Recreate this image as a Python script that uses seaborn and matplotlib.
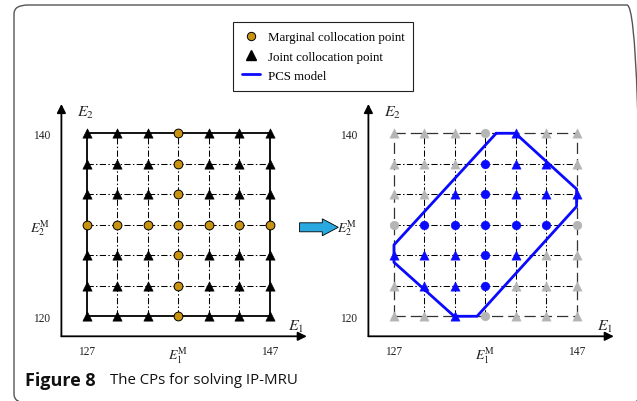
import matplotlib
matplotlib.use("Agg")
import matplotlib.pyplot as plt
from matplotlib.lines import Line2D
from matplotlib.patches import FancyBboxPatch, FancyArrow
import seaborn as sns
import pandas as pd

# ---------------- data ----------------
e1_levels = [127, 130.33, 133.67, 137, 140.33, 143.67, 147]
e2_levels = [120, 123.33, 126.67, 130, 133.33, 136.67, 140]
e1_tick_vals = [127, 137, 147]
e1_tick_labels = ["127", r"$E_1^{\mathrm{M}}$", "147"]
e2_tick_vals = [120, 130, 140]
e2_tick_labels = ["120", r"$E_2^{\mathrm{M}}$", "140"]
mid_index = 3  # marginal collocation row / column

# PCS model polygon (closed)
pcs_e1 = [138.2, 140.3, 147.0, 147.0, 136.1, 133.6, 127.0, 127.0, 138.2]
pcs_e2 = [140.0, 140.0, 133.9, 132.0, 120.0, 120.0, 125.9, 127.8, 140.0]

# grid columns (index into e1_levels) that lie inside the PCS model, per row index
inside_cols = {
    6: [4],
    5: [3, 4, 5],
    4: [2, 3, 4, 5, 6],
    3: [1, 2, 3, 4, 5],
    2: [0, 1, 2, 3, 4],
    1: [1, 2, 3],
    0: [2],
}

legend_labels = ["Marginal collocation point", "Joint collocation point", "PCS model"]
caption_bold = "Figure 8"
caption_text = "The CPs for solving IP-MRU"

# ---------------- build tables ----------------
rows = []
for j, e2 in enumerate(e2_levels):
    for i, e1 in enumerate(e1_levels):
        kind = "Marginal" if (i == mid_index or j == mid_index) else "Joint"
        rows.append({"E1": e1, "E2": e2, "kind": kind, "inside": i in inside_cols[j]})
pts = pd.DataFrame(rows)

# ---------------- style ----------------
sns.set_theme(style="white")
plt.rcParams["font.family"] = ["Liberation Serif", "DejaVu Serif"]
plt.rcParams["mathtext.fontset"] = "stix"

W, H = 637, 402
fig = plt.figure(figsize=(W / 100, H / 100), dpi=100)
fig.patch.set_facecolor("white")

def fx(px):
    return px / W

def fy(py):
    return 1 - py / H

orange = "#c99312"
grey = "#b5b5b5"
blue = "#0a0aff"

xlim = (124.2, 151.0)
ylim = (117.81, 143.2)
ax_w = (xlim[1] - xlim[0]) * 9.13
ax_h = (ylim[1] - ylim[0]) * 9.15

axL = fig.add_axes([fx(61.4), fy(337.3), ax_w / W, ax_h / H])
axR = fig.add_axes([fx(368.4), fy(337.3), ax_w / W, ax_h / H])

dashdot = (0, (6, 2.2, 1.4, 2.2))
for ax, right in ((axL, False), (axR, True)):
    ax.set_xlim(*xlim)
    ax.set_ylim(*ylim)
    for s in ax.spines.values():
        s.set_visible(False)
    ax.set_facecolor("none")
    # grid lines
    for k, v in enumerate(e2_levels):
        outer = k in (0, len(e2_levels) - 1)
        if outer:
            if right:
                ax.hlines(v, e1_levels[0], e1_levels[-1], color="#333333", lw=0.9,
                          linestyle=(0, (9, 4)), zorder=1)
            else:
                ax.hlines(v, e1_levels[0], e1_levels[-1], color="black", lw=1.3, zorder=1)
        else:
            ax.hlines(v, e1_levels[0], e1_levels[-1], color="black", lw=0.75,
                      linestyle=dashdot, zorder=1)
    for k, v in enumerate(e1_levels):
        outer = k in (0, len(e1_levels) - 1)
        if outer:
            if right:
                ax.vlines(v, e2_levels[0], e2_levels[-1], color="#333333", lw=0.9,
                          linestyle=(0, (9, 4)), zorder=1)
            else:
                ax.vlines(v, e2_levels[0], e2_levels[-1], color="black", lw=1.3, zorder=1)
        else:
            ax.vlines(v, e2_levels[0], e2_levels[-1], color="black", lw=0.75,
                      linestyle=dashdot, zorder=1)
    # axis arrows
    ax.annotate("", xy=(1.003, 0), xytext=(0, 0), xycoords="axes fraction",
                arrowprops=dict(arrowstyle="-|>", color="black", lw=1.3,
                                mutation_scale=13, shrinkA=0, shrinkB=0),
                annotation_clip=False)
    ax.annotate("", xy=(0, 1.0), xytext=(0, 0), xycoords="axes fraction",
                arrowprops=dict(arrowstyle="-|>", color="black", lw=1.3,
                                mutation_scale=13, shrinkA=0, shrinkB=0),
                annotation_clip=False)
    ax.set_xticks(e1_tick_vals)
    ax.set_xticklabels(e1_tick_labels)
    ax.set_yticks(e2_tick_vals)
    ax.set_yticklabels(e2_tick_labels)
    ax.tick_params(axis="x", length=0, pad=6, labelsize=8.3, labelcolor="#222222")
    ax.tick_params(axis="y", length=0, pad=8, labelsize=8.3, labelcolor="#222222")
    ax.get_xticklabels()[1].set_fontsize(10)
    ax.get_yticklabels()[1].set_fontsize(10)
    ax.set_xlabel("")
    ax.set_ylabel("")
    ax.text(0.065, 0.965, r"$E_2$", transform=ax.transAxes, fontsize=11.5,
            ha="left", va="center")
    ax.text(0.925 if not right else 0.933, 0.045, r"$E_1$", transform=ax.transAxes,
            fontsize=11.5, ha="left", va="center")

# ---- left panel points ----
marg = pts[pts["kind"] == "Marginal"]
joint = pts[pts["kind"] == "Joint"]
sns.scatterplot(data=joint, x="E1", y="E2", marker="^", s=45, color="black",
                edgecolor="black", linewidth=0.4, ax=axL, zorder=3, legend=False)
sns.scatterplot(data=marg, x="E1", y="E2", marker="o", s=40, color=orange,
                edgecolor="black", linewidth=0.7, ax=axL, zorder=3, legend=False)

# ---- right panel points ----
out_pts = pts[~pts["inside"]]
in_pts = pts[pts["inside"]]
for df, col, z in ((out_pts, grey, 2), (in_pts, blue, 4)):
    sub_j = df[df["kind"] == "Joint"]
    sub_m = df[df["kind"] == "Marginal"]
    sns.scatterplot(data=sub_j, x="E1", y="E2", marker="^", s=45, color=col,
                    edgecolor=col, linewidth=0.3, ax=axR, zorder=z, legend=False)
    sns.scatterplot(data=sub_m, x="E1", y="E2", marker="o", s=40, color=col,
                    edgecolor=col, linewidth=0.3, ax=axR, zorder=z, legend=False)

sns.lineplot(x=pcs_e1, y=pcs_e2, sort=False, estimator=None, color=blue, lw=2.0,
             ax=axR, zorder=3)
for ax in (axL, axR):
    ax.set_xlabel("")
    ax.set_ylabel("")

# ---- legend ----
handles = [
    Line2D([], [], marker="o", linestyle="none", markersize=6, markerfacecolor=orange,
           markeredgecolor="black", markeredgewidth=0.7),
    Line2D([], [], marker="^", linestyle="none", markersize=7, markerfacecolor="black",
           markeredgecolor="black"),
    Line2D([], [], color=blue, lw=2.0),
]
leg = fig.legend(handles, legend_labels, loc="upper left",
                 bbox_to_anchor=(fx(232.7), fy(23.3)), borderaxespad=0,
                 frameon=True, fancybox=False, edgecolor="#222222", framealpha=1,
                 prop={"family": "Liberation Serif", "size": 9.3},
                 handlelength=1.4, handletextpad=0.6, labelspacing=0.55,
                 borderpad=0.7)
leg.get_frame().set_linewidth(0.8)
for t in leg.get_texts():
    t.set_color("black")

# ---- arrow between panels ----
arr = FancyArrow(fx(299.5), fy(228.3), fx(338.3) - fx(299.5), 0,
                 width=9.0 / H, head_width=17.0 / H, head_length=fx(16),
                 length_includes_head=True, transform=fig.transFigure,
                 facecolor="#2aa8e0", edgecolor="black", lw=0.6)
fig.add_artist(arr)

# ---- outer frame ----
frame = FancyBboxPatch((fx(14), fy(404)), fx(641) - fx(14), fy(6) - fy(404),
                       boxstyle="round,pad=0,rounding_size=0.022",
                       transform=fig.transFigure, facecolor="none",
                       edgecolor="#555555", lw=1.0, clip_on=False)
fig.add_artist(frame)

# ---- caption ----
fig.text(fx(25), fy(381), caption_bold, fontsize=13, fontweight="bold",
         family=["Open Sans", "DejaVu Sans"], ha="left", va="center", color="#111111")
fig.text(fx(110), fy(381), caption_text, fontsize=10.8,
         family=["Open Sans", "DejaVu Sans"], ha="left", va="center", color="#111111")

fig.savefig("out.png", dpi=100)
